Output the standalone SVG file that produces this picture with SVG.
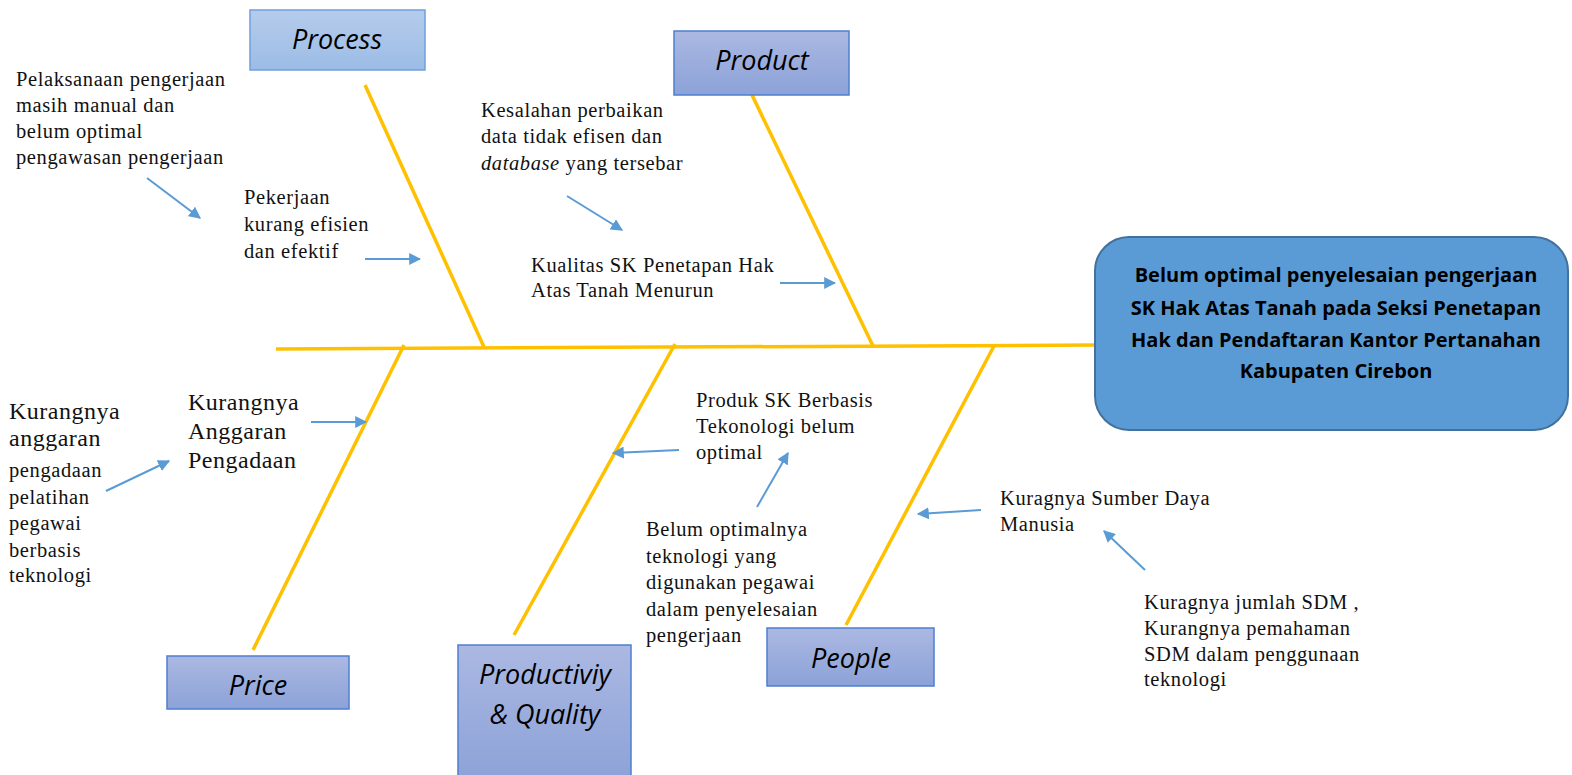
<svg xmlns="http://www.w3.org/2000/svg" width="1572" height="775" viewBox="0 0 1572 775">
<defs>
<linearGradient id="gA" x1="0" y1="0" x2="0" y2="1"><stop offset="0" stop-color="#b5cceb"/><stop offset="1" stop-color="#9cbce6"/></linearGradient>
<linearGradient id="gB" x1="0" y1="0" x2="0" y2="1"><stop offset="0" stop-color="#abb8e2"/><stop offset="1" stop-color="#8ca2d8"/></linearGradient>
<marker id="ah" viewBox="0 0 10 10" refX="9" refY="5" markerWidth="6" markerHeight="6" markerUnits="strokeWidth" orient="auto"><path d="M0,0 L10,5 L0,10 z" fill="#5b9bd5"/></marker>
</defs>
<style>
.bone{stroke:#ffc000;stroke-width:3.5;fill:none;stroke-linecap:butt}
.arr{stroke:#5b9bd5;stroke-width:2;fill:none;marker-end:url(#ah)}
.box{stroke:#4f7fd0;stroke-width:1.5}
.cat{font-family:"Open Sans","Liberation Sans",sans-serif;font-style:italic;font-size:27px;fill:#000;text-anchor:middle}
.t{font-family:"Liberation Serif",serif;font-size:20.5px;letter-spacing:0.6px;fill:#111}
.tb{font-family:"Liberation Serif",serif;font-size:24px;letter-spacing:0.5px;fill:#111}
.main{font-family:"Open Sans","Liberation Sans",sans-serif;font-weight:bold;font-size:20px;fill:#000;text-anchor:middle}
</style>
<rect width="1572" height="775" fill="#fff"/>
<g id="connectors">
<line class="bone" x1="276" y1="349" x2="1096" y2="345"/>
<line class="bone" x1="365" y1="85" x2="484" y2="347"/>
<line class="bone" x1="752" y1="95" x2="873" y2="346"/>
<line class="bone" x1="404" y1="345" x2="253" y2="650"/>
<line class="bone" x1="675" y1="344" x2="514" y2="635"/>
<line class="bone" x1="994" y1="346" x2="846" y2="625"/>
<line class="arr" x1="147" y1="178" x2="200" y2="218"/>
<line class="arr" x1="365" y1="259" x2="420" y2="259"/>
<line class="arr" x1="567" y1="196" x2="622" y2="230"/>
<line class="arr" x1="780" y1="283" x2="835" y2="283"/>
<line class="arr" x1="311" y1="422" x2="366" y2="422"/>
<line class="arr" x1="106" y1="491" x2="169" y2="461"/>
<line class="arr" x1="679" y1="450" x2="613" y2="453"/>
<line class="arr" x1="757" y1="507" x2="788" y2="453"/>
<line class="arr" x1="981" y1="510" x2="918" y2="514"/>
<line class="arr" x1="1145" y1="570" x2="1104" y2="531"/>
</g>
<g id="process"><rect x="250" y="10" width="175" height="60" fill="url(#gA)" stroke="#6fa0dc" stroke-width="1.5"/><text class="cat" x="337" y="49">Process</text></g>
<g id="product"><rect x="674" y="31" width="175" height="64" fill="url(#gB)" class="box"/><text class="cat" x="762" y="70">Product</text></g>
<g id="price"><rect x="167" y="656" width="182" height="53" fill="url(#gB)" class="box"/><text class="cat" x="258" y="695">Price</text></g>
<g id="productivity"><rect x="458" y="645" width="173" height="135" fill="url(#gB)" class="box"/><text class="cat" x="545" y="684">Productiviy</text><text class="cat" x="545" y="724">&amp; Quality</text></g>
<g id="people"><rect x="767" y="628" width="167" height="58" fill="url(#gB)" class="box"/><text class="cat" x="851" y="668">People</text></g>
<g id="effect"><rect x="1095" y="237" width="473" height="193" rx="34" fill="#5b9bd5" stroke="#41719c" stroke-width="2"/>
<text class="main" x="1336" y="282">Belum optimal penyelesaian pengerjaan</text>
<text class="main" x="1336" y="315">SK Hak Atas Tanah pada Seksi Penetapan</text>
<text class="main" x="1336" y="347">Hak dan Pendaftaran  Kantor Pertanahan</text>
<text class="main" x="1336" y="378">Kabupaten Cirebon</text></g>
<g id="c1"><text class="t" x="16" y="86">Pelaksanaan pengerjaan</text><text class="t" x="16" y="112">masih manual dan</text><text class="t" x="16" y="138">belum optimal</text><text class="t" x="16" y="164">pengawasan pengerjaan</text></g>
<g id="c2"><text class="t" x="244" y="204">Pekerjaan</text><text class="t" x="244" y="231">kurang efisien</text><text class="t" x="244" y="258">dan efektif</text></g>
<g id="c3"><text class="t" x="481" y="117">Kesalahan perbaikan</text><text class="t" x="481" y="143">data tidak efisen dan</text><text class="t" x="481" y="170"><tspan font-style="italic">database</tspan> yang tersebar</text></g>
<g id="c4"><text class="t" x="531" y="272">Kualitas SK Penetapan Hak</text><text class="t" x="531" y="297">Atas Tanah Menurun</text></g>
<g id="c5"><text class="tb" x="9" y="419">Kurangnya</text><text class="tb" x="9" y="446">anggaran</text><text class="t" x="9" y="477">pengadaan</text><text class="t" x="9" y="504">pelatihan</text><text class="t" x="9" y="530">pegawai</text><text class="t" x="9" y="557">berbasis</text><text class="t" x="9" y="582">teknologi</text></g>
<g id="c6"><text class="tb" x="188" y="410">Kurangnya</text><text class="tb" x="188" y="439">Anggaran</text><text class="tb" x="188" y="468">Pengadaan</text></g>
<g id="c7"><text class="t" x="696" y="407">Produk SK Berbasis</text><text class="t" x="696" y="433">Tekonologi belum</text><text class="t" x="696" y="459">optimal</text></g>
<g id="c8"><text class="t" x="646" y="536">Belum optimalnya</text><text class="t" x="646" y="563">teknologi yang</text><text class="t" x="646" y="589">digunakan pegawai</text><text class="t" x="646" y="616">dalam penyelesaian</text><text class="t" x="646" y="642">pengerjaan</text></g>
<g id="c9"><text class="t" x="1000" y="505">Kuragnya Sumber Daya</text><text class="t" x="1000" y="531">Manusia</text></g>
<g id="c10"><text class="t" x="1144" y="609">Kuragnya jumlah SDM ,</text><text class="t" x="1144" y="635">Kurangnya pemahaman</text><text class="t" x="1144" y="661">SDM dalam penggunaan</text><text class="t" x="1144" y="686">teknologi</text></g>
</svg>
